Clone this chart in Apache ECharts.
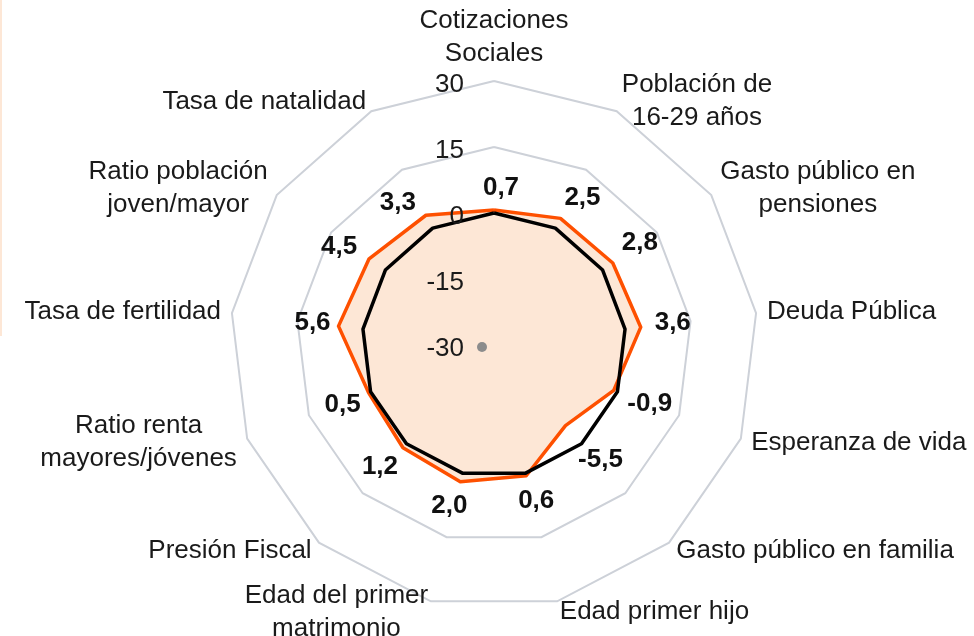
<!DOCTYPE html>
<html>
<head>
    <meta charset="UTF-8">
    <title>Radar</title>
    <script src="https://cdn.jsdelivr.net/npm/echarts@6/dist/echarts.min.js"></script>
    <style>
        body { margin: 0; background: #fff; }
    </style>
</head>
<body>
<div id="radar" style="width:974px; height:636px;"></div>
<script>
    // indicators in clockwise order starting from the top
    var indicators = [
        'Cotizaciones\nSociales',
        'Población de\n16-29 años',
        'Gasto público en\npensiones',
        'Deuda Pública',
        'Esperanza de vida',
        'Gasto público en familia',
        'Edad primer hijo',
        'Edad del primer\nmatrimonio',
        'Presión Fiscal',
        'Ratio renta\nmayores/jóvenes',
        'Tasa de fertilidad',
        'Ratio población\njoven/mayor',
        'Tasa de natalidad'
    ];
    var seriesValues = [0.7, 2.5, 2.8, 3.6, -0.9, -5.5, 0.6, 2.0, 1.2, 0.5, 5.6, 4.5, 3.3];
    var baseValues = [0, 0, 0, 0, 0, 0, 0, 0, 0, 0, 0, 0, 0];
    var axisMin = -30;
    var axisMax = 30;
    var axisSplits = 4;

    var font = 'Liberation Sans, Arial, sans-serif';
    var orange = '#fe5000';
    var fill = '#fde7d6';

    // echarts lays indicators out counter-clockwise, so keep the first and flip the rest
    var order = [0];
    for (var k = indicators.length - 1; k > 0; k--) order.push(k);
    function reorder(arr) { return order.map(function (i) { return arr[i]; }); }

    // label nudges (px) per indicator, clockwise order
    var labelOffsets = [
        [7, -22], [22, -21], [27, -20], [32, -4], [36, 13], [35, 34], [10, 25],
        [-11, 24], [-23, 19], [-26, 12], [-26, -3], [-30, -12], [-28, -12]
    ];

    var labelItems = order.map(function (src, pos) {
        var v = order.map(function (_, j) { return j === pos ? seriesValues[src] : '-'; });
        return {
            value: v,
            label: { offset: labelOffsets[src] }
        };
    });

    var chart = echarts.init(document.getElementById('radar'), null, {renderer: 'canvas'});
    var option = {
        animation: false,
        textStyle: { fontFamily: font },
        graphic: [
            { type: 'rect', left: 0, top: 0, shape: { width: 2, height: 336 }, style: { fill: fill }, silent: true },
            { type: 'circle', shape: { cx: 482, cy: 347, r: 5 }, style: { fill: '#8c8c8c' }, silent: true, z: 10 }
        ],
        radar: {
            center: [494, 345],
            radius: 264,
            startAngle: 90,
            shape: 'polygon',
            splitNumber: axisSplits,
            z: 3,
            nameGap: 11,
            indicator: reorder(indicators).map(function (n, i) {
                var ind = { name: n, min: axisMin, max: axisMax };
                if (i === 0) ind.axisLabel = { show: true };
                return ind;
            }),
            axisName: {
                color: '#1a1a1a',
                fontSize: 26,
                fontFamily: font,
                formatter: function (name) {
                    return name.split('\n').map(function (s) { return '{c|' + s + '}'; }).join('\n');
                },
                rich: {
                    c: { align: 'center', fontSize: 26, lineHeight: 33, color: '#1a1a1a', fontFamily: font }
                }
            },
            axisLine: { show: false },
            axisTick: { show: false },
            axisLabel: {
                show: false,
                color: '#1a1a1a',
                fontSize: 26,
                fontFamily: font,
                margin: 30,
                formatter: function (v) { return '{t|' + v + '}'; },
                rich: {
                    t: { fontSize: 26, color: '#1a1a1a', fontFamily: font, padding: [8, 0, 0, 0] }
                }
            },
            splitArea: { show: false },
            splitLine: {
                lineStyle: {
                    color: ['rgba(0,0,0,0)', 'rgba(0,0,0,0)', 'rgba(0,0,0,0)', '#cdd1d8', '#cdd1d8'],
                    width: 2
                }
            }
        },
        series: [
            {
                // fill only
                type: 'radar',
                z: 1,
                symbol: 'none',
                lineStyle: { width: 0, color: 'rgba(0,0,0,0)' },
                areaStyle: { color: fill, opacity: 1 },
                data: [{ value: reorder(seriesValues) }]
            },
            {
                type: 'radar',
                z: 2,
                symbol: 'none',
                lineStyle: { color: orange, width: 3.5 },
                data: [{ value: reorder(seriesValues) }]
            },
            {
                type: 'radar',
                z: 2,
                symbol: 'none',
                lineStyle: { color: '#000', width: 3.5 },
                data: [{ value: reorder(baseValues) }]
            },
            {
                type: 'radar',
                z: 5,
                symbol: 'circle',
                symbolSize: 2,
                itemStyle: { color: 'rgba(0,0,0,0)' },
                lineStyle: { width: 0, color: 'rgba(0,0,0,0)' },
                label: {
                    show: true,
                    position: 'inside',
                    color: '#111',
                    fontSize: 26,
                    fontWeight: 'bold',
                    fontFamily: font,
                    formatter: function (p) {
                        var v = p.value;
                        if (typeof v !== 'number' || isNaN(v)) return '';
                        return v.toFixed(1).replace('.', ',');
                    }
                },
                data: labelItems
            }
        ]
    };
    chart.setOption(option);
</script>
</body>
</html>
